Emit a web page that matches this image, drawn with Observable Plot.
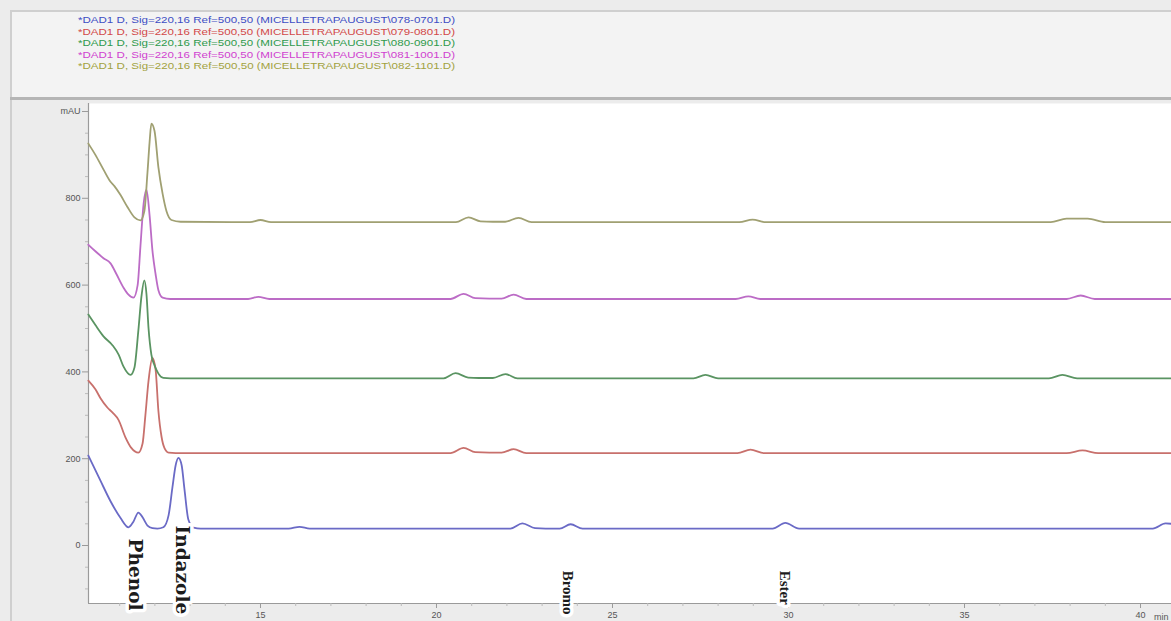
<!DOCTYPE html>
<html><head><meta charset="utf-8">
<script src="https://cdn.jsdelivr.net/npm/d3@7"></script>
<script src="https://cdn.jsdelivr.net/npm/@observablehq/plot@0.6"></script>
<style>
html,body{margin:0;padding:0;}
body{width:1171px;height:621px;overflow:hidden;background:#ececec;position:relative;font-family:"Liberation Sans",Arial,sans-serif;}
#legend{position:absolute;left:10px;top:10px;width:1161px;height:88px;background:#f3f3f3;border-top:2px solid #cfcfcf;border-left:2px solid #cfcfcf;box-sizing:border-box;}
#sep{position:absolute;left:10px;top:97px;width:1161px;height:3px;background:#b5b5b5;}
#chart{position:absolute;left:10px;top:100px;border-left:2px solid #cfcfcf;height:521px;}
</style></head><body>
<div id="legend"></div><div id="sep"></div><div id="chart"></div>
<script>
// ---- Data ----
const legendLabels = [
  "*DAD1 D, Sig=220,16 Ref=500,50 (MICELLETRAPAUGUST\\078-0701.D)",
  "*DAD1 D, Sig=220,16 Ref=500,50 (MICELLETRAPAUGUST\\079-0801.D)",
  "*DAD1 D, Sig=220,16 Ref=500,50 (MICELLETRAPAUGUST\\080-0901.D)",
  "*DAD1 D, Sig=220,16 Ref=500,50 (MICELLETRAPAUGUST\\081-1001.D)",
  "*DAD1 D, Sig=220,16 Ref=500,50 (MICELLETRAPAUGUST\\082-1101.D)"
];
const legendColors = ["#3e4ec4", "#d24848", "#2f9a4c", "#d042d0", "#a2a23e"];
const traceColors  = ["#6a6ac6", "#c8706c", "#5a9462", "#bc6cc6", "#a0a072"];

// 078-0701 (blue)
const blueT = [10.11,10.45,10.74,11.02,11.25,11.39,11.53,11.65,11.79,11.93,12.07,12.24,12.39,12.50,12.59,12.67,12.76,12.84,12.95,13.10,13.30,
  15.8,16.11,16.4, 22.1,22.44,22.8,23.1, 23.5,23.81,24.15, 29.55,29.91,30.3, 40.35,40.71,40.88];
const blueV = [207,150,102,64,42,55,76,65,46,40,39,42,70,135,185,202,185,130,60,41,39,
  39,43,39, 39,51,40,39, 39,49,39, 39,52,39, 39,51,50];

// 079-0801 (red)
const redT = [10.11,10.31,10.45,10.65,10.80,10.97,11.16,11.33,11.53,11.65,11.73,11.82,11.93,12.02,12.10,12.19,12.27,12.39,12.59,
  20.4,20.77,21.1,21.5, 21.85,22.19,22.55, 28.55,28.92,29.3, 37.9,38.35,38.8, 40.88];
const redV = [380,360,340,318,306,289,250,225,214,235,300,380,432,405,310,250,225,214,213,
  213,225,215,214, 214,222,213, 213,221,213, 213,219,213, 213];

// 080-0901 (green)
const greenT = [10.11,10.31,10.54,10.80,10.97,11.11,11.31,11.42,11.53,11.62,11.70,11.76,11.82,11.90,11.99,12.10,12.24,12.44,
  20.2,20.54,20.9,21.2, 21.6,21.96,22.3, 27.3,27.64,28.0, 37.4,37.78,38.2, 40.88];
const greenV = [532,508,482,461,440,412,393,410,495,575,611,580,500,440,415,396,386,385,
  385,397,387,386, 386,395,385, 385,393,385, 385,393,385, 385];

// 081-1001 (magenta)
const magT = [10.11,10.31,10.54,10.74,10.91,11.11,11.25,11.39,11.51,11.59,11.68,11.76,11.85,11.93,12.02,12.10,12.22,12.44,
  14.65,14.94,15.25, 20.4,20.77,21.1,21.5, 21.85,22.19,22.55, 28.5,28.86,29.2, 37.9,38.3,38.7, 40.88];
const magV = [693,678,662,650,625,594,578,571,600,690,788,820,760,680,625,588,571,568,
  568,573,568, 568,580,570,569, 569,578,568, 568,574,568, 568,576,568, 568];

// 082-1101 (olive)
const oliveT = [10.11,10.31,10.54,10.74,10.85,11.02,11.22,11.42,11.59,11.70,11.79,11.85,11.90,11.99,12.10,12.22,12.33,12.47,12.73,
  14.7,15.0,15.3, 20.55,20.91,21.25,21.6, 21.95,22.33,22.7, 28.6,28.98,29.35, 37.45,37.9,38.5,39.0, 40.88];
const oliveV = [926,900,866,838,828,808,780,756,749,770,860,930,972,955,871,810,770,750,746,
  745,750,745, 745,756,747,746, 746,755,745, 745,751,745, 745,753,753,745, 745];

const annotNames = ["Phenol", "Indazole", "Bromo", "Ester"];
const annotTimes = [11.42, 12.78, 23.72, 29.90];
const annotTops  = [16, 46, -58, -58];

const yMajor = [0, 200, 400, 600, 800, 1000];
const yMinor = [-100,-50,50,100,150,250,300,350,450,500,550,650,700,750,850,900,950];
const xMajor = [15, 20, 25, 30, 35, 40];
const xMinor = [11,12,13,14,16,17,18,19,21,22,23,24,26,27,28,29,31,32,33,34,36,37,38,39];

// ---- Build tables ----
const series = [
  {T: blueT, V: blueV}, {T: redT, V: redV}, {T: greenT, V: greenV},
  {T: magT, V: magV}, {T: oliveT, V: oliveV}
];
const rows = series.flatMap((s, i) => s.T.map((t, j) => ({t, v: s.V[j], k: i})));
const annots = annotNames.map((name, i) => ({name, t: annotTimes[i], v: annotTops[i]}));

// ---- Legend ----
const lg = d3.select("#legend").append("svg").attr("width", 1159).attr("height", 86);
lg.selectAll("text").data(legendLabels).join("text")
  .attr("x", 66).attr("y", (d, i) => 11 + i * 11.5)
  .attr("fill", (d, i) => legendColors[i])
  .attr("font-family", "Liberation Sans, Arial, sans-serif")
  .attr("font-size", 9)
  .attr("textLength", 377).attr("lengthAdjust", "spacingAndGlyphs")
  .text(d => d);

// ---- Chart ----
const xDom = [10.114, 40.88];
const yDom = [-133.6, 1018.4];
const axisCol = "#9a9a9a";
const labelStyle = {x: "t", y: "v", text: "name", rotate: 90, textAnchor: "start", lineAnchor: "middle",
  fontWeight: "bold", fill: "#1c1c1c", stroke: "white", strokeWidth: 7};
const chart = Plot.plot({
  width: 1159, height: 521,
  marginLeft: 76, marginRight: 0, marginTop: 3, marginBottom: 18,
  style: {background: "transparent", fontFamily: "Liberation Sans, Arial, sans-serif", overflow: "visible"},
  x: {domain: xDom},
  y: {domain: yDom},
  color: {domain: [0,1,2,3,4], range: traceColors},
  marks: [
    Plot.frame({fill: "white", stroke: "none"}),
    Plot.ruleX([xDom[0]], {stroke: axisCol, strokeWidth: 1.2}),
    Plot.ruleY([yDom[0]], {stroke: axisCol, strokeWidth: 1.2}),
    Plot.axisY({ticks: yMajor, tickSize: 6, tickPadding: 2, fontSize: 9, stroke: axisCol, fill: "#555",
      tickFormat: d => d === 1000 ? "mAU" : String(d), label: null}),
    Plot.axisY({ticks: yMinor, tickSize: 3, text: null, stroke: "#bbb", label: null}),
    Plot.axisX({ticks: xMajor, tickSize: 5, tickPadding: 3, fontSize: 9, stroke: axisCol, fill: "#555",
      label: "min", labelAnchor: "right", labelArrow: "none", labelOffset: 16}),
    Plot.axisX({ticks: xMinor, tickSize: 3, text: null, stroke: "#bbb", label: null}),
    Plot.line(rows, {x: "t", y: "v", z: "k", stroke: "k", strokeWidth: 1.8, curve: "monotone-x"}),
    Plot.text(annots.slice(0, 2), {...labelStyle, fontFamily: "DejaVu Serif, serif", fontSize: 18.5}),
    Plot.text(annots.slice(2), {...labelStyle, fontFamily: "Liberation Serif, serif", fontSize: 15})
  ]
});
document.getElementById("chart").appendChild(chart);
</script></body></html>
